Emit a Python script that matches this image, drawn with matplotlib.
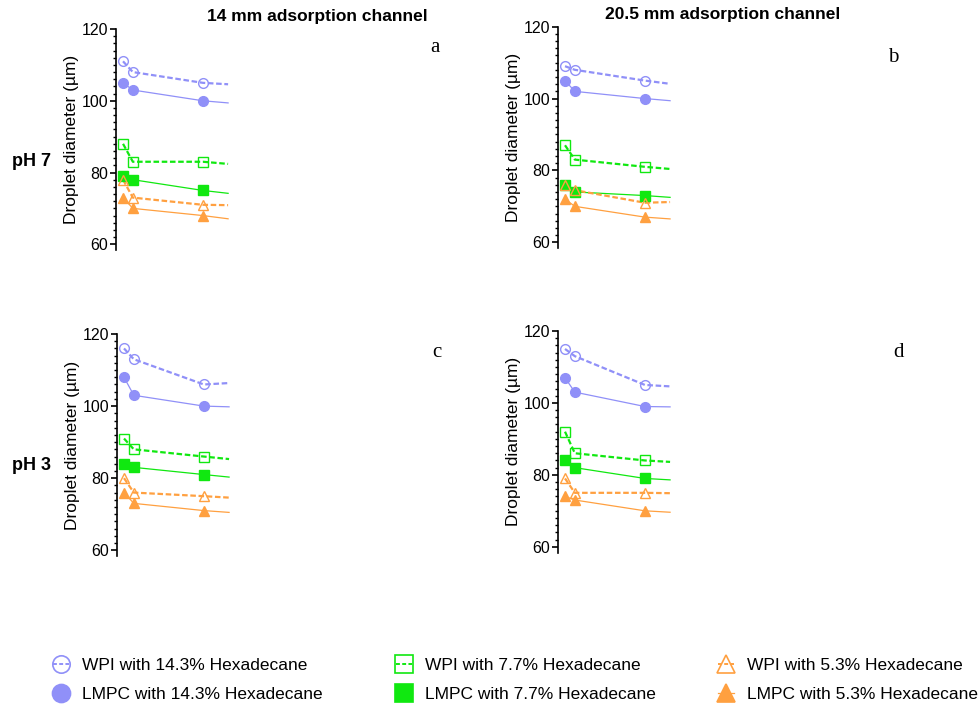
import matplotlib.pyplot as plt
from matplotlib.ticker import MultipleLocator
from matplotlib.lines import Line2D

plt.rcParams['font.family'] = ['Liberation Sans', 'DejaVu Sans']

# x positions of the three measurements, last one is where the line stops
x_pos = [1, 2.4, 12.4, 16]

# values per panel (a, b, c, d); 4th value = line end, no marker
wpi_143 = [[111, 108, 105, 104.6], [109, 108, 105, 104.1],
           [116, 113, 106, 106.4], [115, 113, 105, 104.6]]
lmpc_143 = [[105, 103, 100, 99.4], [105, 102, 100, 99.4],
            [108, 103, 100, 99.8], [107, 103, 99, 98.9]]
wpi_77 = [[88, 83, 83, 82.4], [87, 83, 81, 80.4],
          [91, 88, 86, 85.3], [92, 86, 84, 83.6]]
lmpc_77 = [[79, 78, 75, 74.2], [76, 74, 73, 72.5],
           [84, 83, 81, 80.3], [84, 82, 79, 78.6]]
wpi_53 = [[78, 73, 71, 70.9], [76, 74.5, 71, 71.2],
          [80, 76, 75, 74.6], [79, 75, 75, 74.9]]
lmpc_53 = [[73, 70, 68, 67.1], [72, 70, 67, 66.5],
           [76, 73, 71, 70.5], [74, 73, 70, 69.6]]

labels = ["WPI with 14.3% Hexadecane", "LMPC with 14.3% Hexadecane",
          "WPI with 7.7% Hexadecane", "LMPC with 7.7% Hexadecane",
          "WPI with 5.3% Hexadecane", "LMPC with 5.3% Hexadecane"]
all_series = [wpi_143, lmpc_143, wpi_77, lmpc_77, wpi_53, lmpc_53]

blue = "#9090F8"
green = "#10E810"
orange = "#FFA040"
colors = [blue, blue, green, green, orange, orange]
markers = ["o", "o", "s", "s", "^", "^"]
hollow = [True, False, True, False, True, False]

panel_letters = ["a", "b", "c", "d"]
rects = [[0.1184, 0.6469, 0.1265, 0.3121],
         [0.5694, 0.6497, 0.1265, 0.3126],
         [0.1194, 0.2147, 0.1265, 0.3135],
         [0.5694, 0.2196, 0.1265, 0.3129]]
letter_pos = [(435, 48), (893, 57), (437, 352), (898, 352)]

fig = plt.figure(figsize=(9.8, 7.08), dpi=100)

for p, rect in enumerate(rects):
    ax = fig.add_axes(rect)
    for s, vals in enumerate(all_series):
        y = vals[p]
        ls = (0, (2.5, 1.2)) if hollow[s] else "-"
        lw = 1.6 if hollow[s] else 0.9
        ax.plot(x_pos, y, color=colors[s], ls=ls, lw=lw, zorder=2)
        ax.plot(x_pos[:3], y[:3], ls="none", marker=markers[s], ms=7 if markers[s] != "s" else 6.5,
                mfc="none" if hollow[s] else colors[s], mec=colors[s], mew=1.0, zorder=3)
    ax.set_xlim(0, 17.7)
    ax.set_ylim(58.4, 120)
    ax.yaxis.set_major_locator(MultipleLocator(20))
    ax.yaxis.set_minor_locator(MultipleLocator(2))
    for side in ["top", "right", "bottom"]:
        ax.spines[side].set_visible(False)
    ax.spines["left"].set_linewidth(1.2)
    ax.set_xticks([])
    ax.tick_params(axis="y", which="major", length=4, width=1.2, labelsize=11.5, pad=1.5)
    ax.tick_params(axis="y", which="minor", length=2, width=1.0)
    ax.set_ylabel("Droplet diameter (µm)", fontsize=12.5, labelpad=2)
    ax.patch.set_visible(False)
    lx, ly = letter_pos[p]
    fig.text(lx / 980, 1 - ly / 708, panel_letters[p], fontsize=15,
             family="Liberation Serif", ha="center", va="center")

fig.text(317 / 980, 1 - 16 / 708, "14 mm adsorption channel", fontsize=12.5,
         fontweight="bold", ha="center", va="center")
fig.text(723 / 980, 1 - 15 / 708, "20.5 mm adsorption channel", fontsize=12.5,
         fontweight="bold", ha="center", va="center")
fig.text(12 / 980, 1 - 162 / 708, "pH 7", fontsize=13, fontweight="bold",
         ha="left", va="center")
fig.text(12 / 980, 1 - 466 / 708, "pH 3", fontsize=13, fontweight="bold",
         ha="left", va="center")

handles = []
for s in range(6):
    handles.append(Line2D([], [], color=colors[s],
                          ls=(0, (2, 1.2)) if hollow[s] else "-",
                          lw=1.4 if hollow[s] else 0.9,
                          marker=markers[s], ms=12.5 if hollow[s] else 13,
                          mfc="none" if hollow[s] else colors[s],
                          mec=colors[s], mew=1.2))

col_x = [53, 396, 718]
for c in range(3):
    fig.legend(handles[2 * c:2 * c + 2], labels[2 * c:2 * c + 2],
               loc="center left", bbox_to_anchor=(col_x[c] / 980, 1 - 680 / 708),
               frameon=False, fontsize=12.5, handlelength=0.9, handletextpad=0.75,
               labelspacing=0.8, borderpad=0, borderaxespad=0)

fig.savefig("out.png", dpi=100)
